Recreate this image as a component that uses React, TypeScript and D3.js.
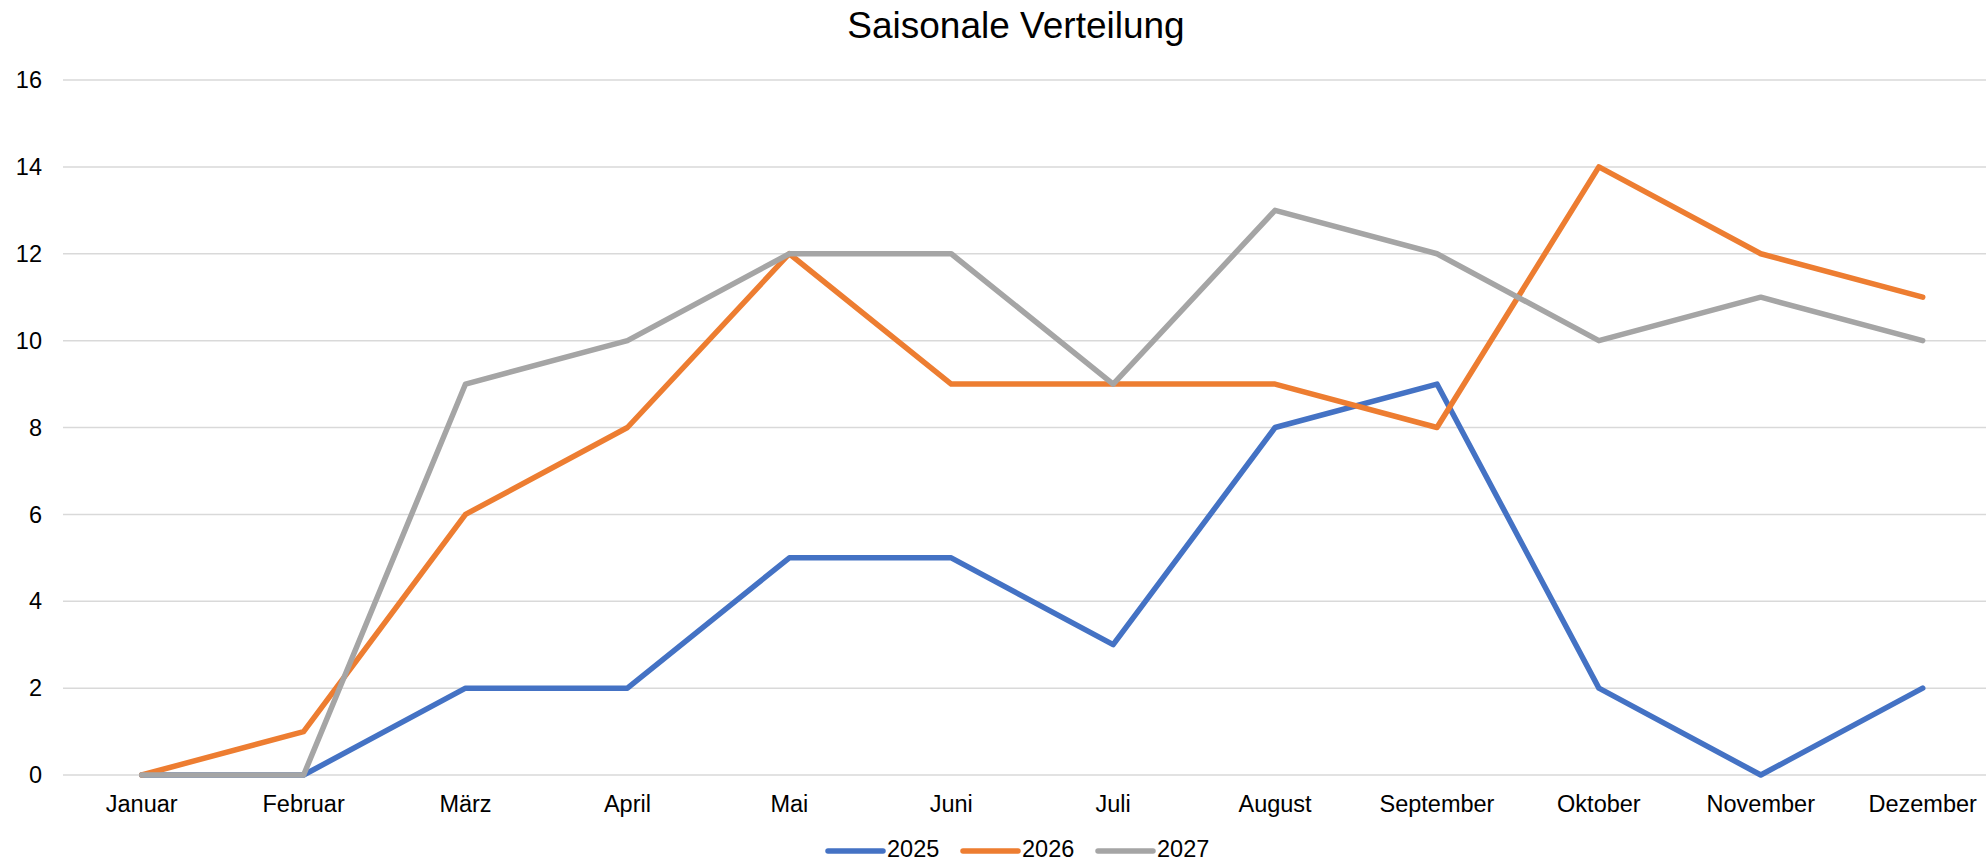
import React from "react";
import * as d3 from "d3";

// chart data
const months = [
  "Januar", "Februar", "März", "April", "Mai", "Juni",
  "Juli", "August", "September", "Oktober", "November", "Dezember",
];
const years = ["2025", "2026", "2027"];
const values2025 = [0, 0, 2, 2, 5, 5, 3, 8, 9, 2, 0, 2];
const values2026 = [0, 1, 6, 8, 12, 9, 9, 9, 8, 14, 12, 11];
const values2027 = [0, 0, 9, 10, 12, 12, 9, 13, 12, 10, 11, 10];
const yTicks = [0, 2, 4, 6, 8, 10, 12, 14, 16];
const colors = ["#4472C4", "#ED7D31", "#A5A5A5"];

const W = 1986;
const H = 863;
const font = "'Liberation Sans', Arial, sans-serif";

export default function App() {
  const series = [values2025, values2026, values2027];

  const x = d3.scalePoint<string>().domain(months).range([141.7, 1922.7]);
  const y = d3.scaleLinear().domain([0, 16]).range([775, 80]);

  const line = d3
    .line<number>()
    .x((_, i) => x(months[i]) as number)
    .y((d) => y(d));

  return (
    <svg
      width={W}
      height={H}
      viewBox={`0 0 ${W} ${H}`}
      style={{ position: "absolute", left: 0, top: 0, background: "#fff" }}
    >
      <rect width={W} height={H} fill="#fff" />
      {/* title */}
      <text
        x={1016}
        y={38}
        textAnchor="middle"
        fontFamily={font}
        fontSize={37}
        fill="#000"
      >
        Saisonale Verteilung
      </text>

      {/* gridlines + y labels */}
      {yTicks.map((t) => (
        <g key={t}>
          <line x1={63} x2={W} y1={y(t)} y2={y(t)} stroke="#D9D9D9" strokeWidth={1.5} />
          <text
            x={42}
            y={y(t)}
            dy="0.35em"
            textAnchor="end"
            fontFamily={font}
            fontSize={23.5}
            fill="#000"
          >
            {t}
          </text>
        </g>
      ))}

      {/* x labels */}
      {months.map((m) => (
        <text
          key={m}
          x={x(m)}
          y={812}
          textAnchor="middle"
          fontFamily={font}
          fontSize={23.5}
          fill="#000"
        >
          {m}
        </text>
      ))}

      {/* lines */}
      {series.map((s, i) => (
        <path
          key={years[i]}
          d={line(s) || ""}
          fill="none"
          stroke={colors[i]}
          strokeWidth={5.5}
          strokeLinejoin="round"
          strokeLinecap="round"
        />
      ))}

      {/* legend (kept just inside the bottom edge) */}
      {years.map((yr, i) => {
        const lx = 828 + i * 135;
        return (
          <g key={yr}>
            <line
              x1={lx}
              x2={lx + 55}
              y1={851}
              y2={851}
              stroke={colors[i]}
              strokeWidth={5.5}
              strokeLinecap="round"
            />
            <text
              x={lx + 59}
              y={857}
              fontFamily={font}
              fontSize={23.5}
              fill="#000"
            >
              {yr}
            </text>
          </g>
        );
      })}
    </svg>
  );
}
